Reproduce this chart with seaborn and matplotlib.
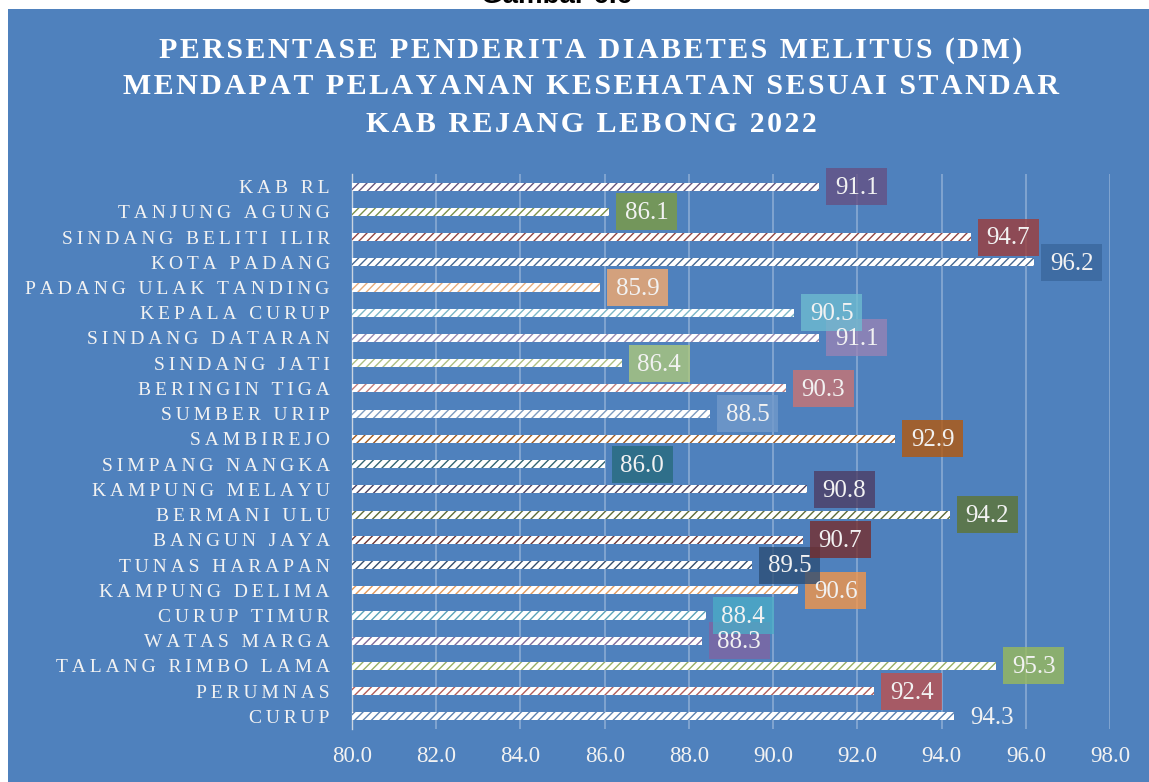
import colorsys
import matplotlib
matplotlib.use("Agg")
import matplotlib.pyplot as plt
import matplotlib.transforms as mtransforms
from matplotlib.patches import Rectangle
import seaborn as sns
import pandas as pd

# Puskesmas / wilayah, top to bottom
wilayah = [
    "KAB RL", "TANJUNG AGUNG", "SINDANG BELITI ILIR", "KOTA PADANG",
    "PADANG ULAK TANDING", "KEPALA CURUP", "SINDANG DATARAN", "SINDANG JATI",
    "BERINGIN TIGA", "SUMBER URIP", "SAMBIREJO", "SIMPANG NANGKA",
    "KAMPUNG MELAYU", "BERMANI ULU", "BANGUN JAYA", "TUNAS HARAPAN",
    "KAMPUNG DELIMA", "CURUP TIMUR", "WATAS MARGA", "TALANG RIMBO LAMA",
    "PERUMNAS", "CURUP",
]
persen = [
    91.1, 86.1, 94.7, 96.2, 85.9, 90.5, 91.1, 86.4, 90.3, 88.5, 92.9, 86.0,
    90.8, 94.2, 90.7, 89.5, 90.6, 88.4, 88.3, 95.3, 92.4, 94.3,
]
x_ticks = [80.0, 82.0, 84.0, 86.0, 88.0, 90.0, 92.0, 94.0, 96.0, 98.0]

title_lines = [
    "PERSENTASE PENDERITA DIABETES MELITUS (DM)",
    "MENDAPAT PELAYANAN KESEHATAN SESUAI STANDAR",
    "KAB REJANG LEBONG 2022",
]

BG = "#4F81BD"
TXT = "#F2F2F2"
accents = ["#4F81BD", "#C0504D", "#9BBB59", "#8064A2", "#4BACC6", "#F79646"]


def shade(hex_color, mod, off=0.0):
    r, g, b = matplotlib.colors.to_rgb(hex_color)
    h, l, s = colorsys.rgb_to_hls(r, g, b)
    l = min(1.0, l * mod + off)
    return matplotlib.colors.to_hex(colorsys.hls_to_rgb(h, l, s))


# vary-by-point office palette, counted from the bottom bar upward
cycle = ([c for c in accents]
         + [shade(c, 0.6) for c in accents]
         + [shade(c, 0.8, 0.2) for c in accents]
         + [shade(c, 0.8) for c in accents])
colors_bottom_up = cycle[:len(wilayah)]
colors = colors_bottom_up[::-1]


def tracked(s, sep="\u2009"):
    return sep.join(list(s))


df = pd.DataFrame({"wilayah": wilayah, "persen": persen})

W, H = 1149, 782
fig = plt.figure(figsize=(W / 100, H / 100), dpi=100, facecolor="white")

# caption of the figure, mostly above the page edge
fig.text(557 / W, 1 - 3 / H, "Gambar 6.6", ha="center", va="baseline",
         fontsize=20, fontweight="bold", family="Liberation Sans", color="black",
         zorder=0.5)
fig.patches.append(Rectangle((8 / W, 0), 1 - 8 / W, 1 - 9 / H,
                             transform=fig.transFigure, facecolor=BG,
                             edgecolor="none", zorder=0))

ax = fig.add_axes([352 / W, 1 - 729 / H, (1110 - 352) / W, (729 - 174) / H])
ax.set_zorder(2)
ax.set_facecolor("none")

sns.barplot(data=df, x="persen", y="wilayah", hue="wilayah", palette=colors,
            orient="h", width=0.32, errorbar=None, legend=False, ax=ax)

plt.rcParams["hatch.linewidth"] = 1.1
for patch in ax.patches:
    c = patch.get_facecolor()
    patch.set_facecolor("white")
    patch.set_edgecolor(c)
    patch.set_hatch("////")
    patch.set_linewidth(0)
    patch.set_zorder(3)

ax.set_xlim(80, 98)
ax.set_ylim(len(wilayah) - 0.5, -0.5)
ax.set_xticks(x_ticks)
ax.set_xticklabels([f"{t:.1f}" for t in x_ticks])
ax.set_yticks(range(len(wilayah)))
ax.set_yticklabels([tracked(w) for w in wilayah])
ax.set_xlabel("")
ax.set_ylabel("")

ax.grid(axis="x", color="white", alpha=0.3, linewidth=1.3, zorder=1)
ax.grid(axis="y", visible=False)
ax.set_axisbelow(True)
for side in ["top", "right", "bottom"]:
    ax.spines[side].set_visible(False)
ax.spines["left"].set_color("#C9D3E0")
ax.spines["left"].set_linewidth(1.0)
ax.tick_params(axis="both", length=0)
ax.tick_params(axis="x", pad=12, labelsize=16.5, labelcolor=TXT)
ax.tick_params(axis="y", pad=16, labelsize=14, labelcolor=TXT)
for lab in ax.get_xticklabels() + ax.get_yticklabels():
    lab.set_family("Liberation Serif")

# value boxes beside each bar
box_w, box_h, gap = 61 / 100, 37 / 100, 7 / 100  # inches
for i, (v, c) in enumerate(zip(persen, colors)):
    trans = fig.dpi_scale_trans + mtransforms.ScaledTranslation(v, i, ax.transData)
    ax.add_patch(Rectangle((gap, -box_h / 2), box_w, box_h, transform=trans,
                           facecolor=c, alpha=0.78, edgecolor="none",
                           zorder=4 + (len(wilayah) - i) * 0.01, clip_on=False))
    ax.annotate(f"{v:.1f}", xy=(v, i), xytext=((gap + box_w / 2) * 72, -1),
                textcoords="offset points", ha="center", va="center",
                fontsize=18, family="Liberation Serif", color=TXT, zorder=6,
                annotation_clip=False)

for k, line in enumerate(title_lines):
    fig.text(591 / W, 1 - (50 + 37 * k) / H, tracked(line, "\u200a"),
             ha="center", va="center", fontsize=21.5, fontweight="bold",
             family="Liberation Serif", color="white")

fig.savefig("out.png", dpi=100, facecolor="white")
